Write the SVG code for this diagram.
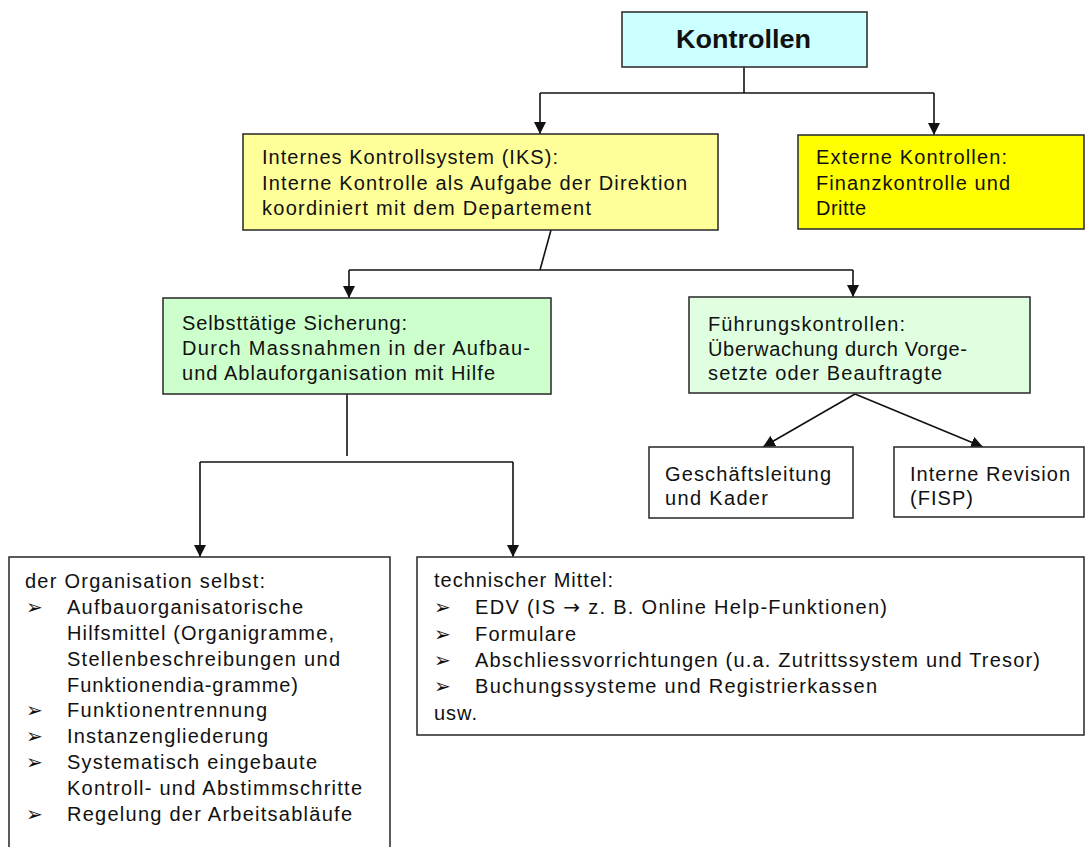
<svg xmlns="http://www.w3.org/2000/svg" width="1086" height="847" viewBox="0 0 1086 847">
<style>
  .box { stroke: #333333; stroke-width: 1.6; }
  .t { font-family: "Liberation Sans", Arial, sans-serif; font-size: 20px; fill: #111111; }
  .b { font-family: "DejaVu Sans", sans-serif; font-size: 20px; fill: #111111; }
  .c { fill: none; stroke: #111111; stroke-width: 1.6; }
</style>
<defs>
  <marker id="ah" markerUnits="userSpaceOnUse" markerWidth="12" markerHeight="12" refX="12" refY="6" orient="auto">
    <path d="M0,0 L12,6 L0,12 z" fill="#111111"/>
  </marker>
</defs>
<rect width="1086" height="847" fill="#ffffff"/>

<g id="connectors">
  <polyline class="c" points="744,67 744,93"/>
  <polyline class="c" points="540,93 934,93"/>
  <line class="c" x1="540" y1="93" x2="540" y2="134" marker-end="url(#ah)"/>
  <line class="c" x1="934" y1="93" x2="934" y2="135" marker-end="url(#ah)"/>
  <line class="c" x1="551" y1="230" x2="540" y2="270"/>
  <polyline class="c" points="349,270 853,270"/>
  <line class="c" x1="349" y1="270" x2="349" y2="298" marker-end="url(#ah)"/>
  <line class="c" x1="853" y1="270" x2="853" y2="297" marker-end="url(#ah)"/>
  <line class="c" x1="347" y1="394" x2="347" y2="456"/>
  <polyline class="c" points="200,462 513,462"/>
  <line class="c" x1="200" y1="462" x2="200" y2="557" marker-end="url(#ah)"/>
  <line class="c" x1="513" y1="462" x2="513" y2="557" marker-end="url(#ah)"/>
  <line class="c" x1="855" y1="394" x2="763" y2="447" marker-end="url(#ah)"/>
  <line class="c" x1="855" y1="394" x2="983" y2="447" marker-end="url(#ah)"/>
</g>

<g id="kontrollen">
  <rect class="box" x="622" y="12" width="245" height="55" fill="#CCFFFF"/>
  <text x="676" y="48" font-family="Liberation Sans, Arial, sans-serif" font-size="26" font-weight="bold" fill="#111111" textLength="135" lengthAdjust="spacingAndGlyphs">Kontrollen</text>
</g>

<g id="iks">
  <rect class="box" x="243" y="134" width="475" height="96" fill="#FFFF99"/>
  <text class="t" x="262" y="164" textLength="296" lengthAdjust="spacing">Internes Kontrollsystem (IKS):</text>
  <text class="t" x="262" y="190" textLength="425" lengthAdjust="spacing">Interne Kontrolle als Aufgabe der Direktion</text>
  <text class="t" x="262" y="215" textLength="329" lengthAdjust="spacing">koordiniert mit dem Departement</text>
</g>

<g id="extern">
  <rect class="box" x="798" y="135" width="286" height="94" fill="#FFFF00"/>
  <text class="t" x="816" y="164" textLength="191" lengthAdjust="spacing">Externe Kontrollen:</text>
  <text class="t" x="816" y="190" textLength="194" lengthAdjust="spacing">Finanzkontrolle und</text>
  <text class="t" x="816" y="215" textLength="50" lengthAdjust="spacing">Dritte</text>
</g>

<g id="selbst">
  <rect class="box" x="163" y="298" width="388" height="96" fill="#CCFFCC"/>
  <text class="t" x="182" y="330" textLength="225" lengthAdjust="spacing">Selbsttätige Sicherung:</text>
  <text class="t" x="182" y="355" textLength="348" lengthAdjust="spacing">Durch Massnahmen in der Aufbau-</text>
  <text class="t" x="182" y="380" textLength="313" lengthAdjust="spacing">und Ablauforganisation mit Hilfe</text>
</g>

<g id="fuehrung">
  <rect class="box" x="689" y="297" width="341" height="96" fill="#E0FFE0"/>
  <text class="t" x="708" y="331" textLength="197" lengthAdjust="spacing">Führungskontrollen:</text>
  <text class="t" x="708" y="356" textLength="259" lengthAdjust="spacing">Überwachung durch Vorge-</text>
  <text class="t" x="708" y="380" textLength="234" lengthAdjust="spacing">setzte oder Beauftragte</text>
</g>

<g id="gl">
  <rect class="box" x="649" y="447" width="204" height="71" fill="#FFFFFF"/>
  <text class="t" x="665" y="481" textLength="166" lengthAdjust="spacing">Geschäftsleitung</text>
  <text class="t" x="665" y="505" textLength="103" lengthAdjust="spacing">und Kader</text>
</g>

<g id="revision">
  <rect class="box" x="894" y="447" width="190" height="70" fill="#FFFFFF"/>
  <text class="t" x="910" y="481" textLength="160" lengthAdjust="spacing">Interne Revision</text>
  <text class="t" x="910" y="505" textLength="63" lengthAdjust="spacing">(FISP)</text>
</g>

<g id="organisation">
  <rect class="box" x="9" y="557" width="381" height="300" fill="#FFFFFF"/>
  <text class="t" x="25" y="588" textLength="240" lengthAdjust="spacing">der Organisation selbst:</text>
  <text class="b" x="26" y="614">➢</text>
  <text class="t" x="67" y="614" textLength="236" lengthAdjust="spacing">Aufbauorganisatorische</text>
  <text class="t" x="67" y="640" textLength="267" lengthAdjust="spacing">Hilfsmittel (Organigramme,</text>
  <text class="t" x="67" y="666" textLength="273" lengthAdjust="spacing">Stellenbeschreibungen und</text>
  <text class="t" x="67" y="692" textLength="231" lengthAdjust="spacing">Funktionendia-gramme)</text>
  <text class="b" x="26" y="717">➢</text>
  <text class="t" x="67" y="717" textLength="200" lengthAdjust="spacing">Funktionentrennung</text>
  <text class="b" x="26" y="743">➢</text>
  <text class="t" x="67" y="743" textLength="201" lengthAdjust="spacing">Instanzengliederung</text>
  <text class="b" x="26" y="769">➢</text>
  <text class="t" x="67" y="769" textLength="250" lengthAdjust="spacing">Systematisch eingebaute</text>
  <text class="t" x="67" y="795" textLength="295" lengthAdjust="spacing">Kontroll- und Abstimmschritte</text>
  <text class="b" x="26" y="821">➢</text>
  <text class="t" x="67" y="821" textLength="285" lengthAdjust="spacing">Regelung der Arbeitsabläufe</text>
</g>

<g id="technik">
  <rect class="box" x="417" y="557" width="667" height="178" fill="#FFFFFF"/>
  <text class="t" x="434" y="587" textLength="179" lengthAdjust="spacing">technischer Mittel:</text>
  <text class="b" x="434" y="614">➢</text>
  <text class="t" x="475" y="614" textLength="412" lengthAdjust="spacing">EDV (IS <tspan font-family="DejaVu Sans, sans-serif">→</tspan> z. B. Online Help-Funktionen)</text>
  <text class="b" x="434" y="641">➢</text>
  <text class="t" x="475" y="641" textLength="101" lengthAdjust="spacing">Formulare</text>
  <text class="b" x="434" y="667">➢</text>
  <text class="t" x="475" y="667" textLength="565" lengthAdjust="spacing">Abschliessvorrichtungen (u.a. Zutrittssystem und Tresor)</text>
  <text class="b" x="434" y="693">➢</text>
  <text class="t" x="475" y="693" textLength="402" lengthAdjust="spacing">Buchungssysteme und Registrierkassen</text>
  <text class="t" x="434" y="720" textLength="43" lengthAdjust="spacing">usw.</text>
</g>
</svg>
